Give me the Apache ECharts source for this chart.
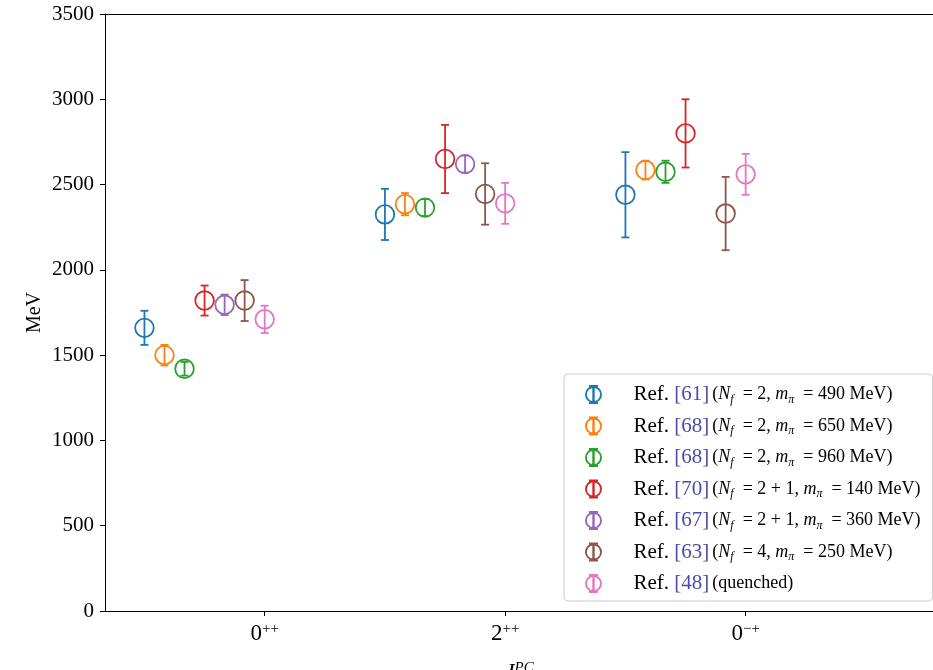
<!DOCTYPE html>
<html>
<head>
<meta charset="utf-8">
<script src="https://cdn.jsdelivr.net/npm/echarts@6/dist/echarts.min.js"></script>
<style>
html, body {margin: 0; padding: 0; background: #fff;}
#chart {width: 933px; height: 670px;}
</style>
</head>
<body>
<div id="chart"></div>
<script>
// J^PC channels, tick labels on x
const categories = ['0', '2', '0'];
const categorySup = ['++', '++', '\u2212+'];

// masses (MeV) and symmetric errors, one pair per reference
const mass61 = [1660, 2325, 2440];
const err61 = [100, 150, 250];
const mass68a = [1500, 2385, 2585];
const err68a = [60, 65, 55];
const mass68b = [1420, 2365, 2575];
const err68b = [40, 50, 65];
const mass70 = [1820, 2650, 2800];
const err70 = [88, 200, 200];
const mass67 = [1795, 2620, null];
const err67 = [60, 50, null];
const mass63 = [1820, 2445, 2330];
const err63 = [120, 180, 215];
const mass48 = [1710, 2390, 2560];
const err48 = [80, 120, 120];

const refNums = ['61', '68', '68', '70', '67', '63', '48'];
const nfLabels = ['2', '2', '2', '2 + 1', '2 + 1', '4', null];
const mpiLabels = ['490', '650', '960', '140', '360', '250', null];

const masses = [mass61, mass68a, mass68b, mass70, mass67, mass63, mass48];
const errors = [err61, err68a, err68b, err70, err67, err63, err48];
const colors = ['#1f77b4', '#ff7f0e', '#2ca02c', '#d62728', '#9467bd', '#8c564b', '#e377c2'];

const FONT = 'Liberation Serif';
const XMIN = -0.664, XMAX = 2.779;

// circle + error bar glyph for the legend
const icon = 'path://M0,-8.5A8.5,8.5 0 1,1 0,8.5A8.5,8.5 0 1,1 0,-8.5Z' +
    'M0,-6.6A6.6,6.6 0 1,0 0,6.6A6.6,6.6 0 1,0 0,-6.6Z' +
    'M-1.2,-9.5L1.2,-9.5L1.2,9.5L-1.2,9.5Z' +
    'M-4.5,-9.5L4.5,-9.5L4.5,-7.4L-4.5,-7.4Z' +
    'M-4.5,7.4L4.5,7.4L4.5,9.5L-4.5,9.5Z';

const renderErr = (color) => (params, api) => {
    const x = api.value(0), y = api.value(1), e = api.value(2);
    const c = api.coord([x, y]);
    const t = api.coord([x, y + e]);
    const b = api.coord([x, y - e]);
    const st = {stroke: color, lineWidth: 1.8, fill: 'none'};
    return {
        type: 'group',
        children: [
            {type: 'line', shape: {x1: c[0], y1: t[1], x2: c[0], y2: b[1]}, style: st},
            {type: 'line', shape: {x1: c[0] - 4, y1: t[1], x2: c[0] + 4, y2: t[1]}, style: st},
            {type: 'line', shape: {x1: c[0] - 4, y1: b[1], x2: c[0] + 4, y2: b[1]}, style: st},
            {type: 'circle', shape: {cx: c[0], cy: c[1], r: 9.3}, style: {stroke: color, lineWidth: 1.8, fill: 'none'}}
        ]
    };
};

const series = masses.map((m, s) => {
    const offset = (s - 6) / 12;
    const data = [];
    m.forEach((v, i) => {
        if (v != null) data.push([i + offset, v, errors[s][i]]);
    });
    return {
        name: 's' + s,
        type: 'custom',
        renderItem: renderErr(colors[s]),
        itemStyle: {color: colors[s]},
        encode: {x: 0, y: 1},
        data: data,
        z: 3 + s
    };
});

const legendText = (name) => {
    const s = +name.slice(1);
    let str = '{pad|}{ref|Ref. }{num|[' + refNums[s] + ']} ';
    if (nfLabels[s] == null) {
        str += '{p|(quenched)}';
    } else {
        str += '{p|(}{it|N}{sub|f}{p|  = ' + nfLabels[s] + ', }{it|m}{sub|\u03c0}{p|  = ' + mpiLabels[s] + ' MeV)}';
    }
    return str;
};

const chart = echarts.init(document.getElementById('chart'));
chart.setOption({
    animation: false,
    textStyle: {fontFamily: FONT},
    grid: {left: 105, right: 0, top: 14, bottom: 59, outerBoundsMode: 'none', containLabel: false},
    legend: {
        orient: 'vertical',
        left: 564,
        top: 374,
        padding: [10, 12, 7, 21],
        itemWidth: 30,
        itemHeight: 19,
        itemGap: 10,
        backgroundColor: 'rgba(255,255,255,0.8)',
        borderColor: '#cccccc',
        borderWidth: 1,
        borderRadius: 4,
        itemStyle: {borderWidth: 0},
        data: series.map(s => ({name: s.name, icon: icon})),
        formatter: legendText,
        textStyle: {
            fontFamily: FONT,
            color: '#000',
            rich: {
                pad: {width: 20, lineHeight: 22},
                ref: {fontFamily: FONT, fontSize: 21, color: '#000', lineHeight: 22},
                num: {fontFamily: FONT, fontSize: 21, color: '#4c4ca6', lineHeight: 22},
                p: {fontFamily: FONT, fontSize: 18, color: '#000', lineHeight: 22},
                it: {fontFamily: FONT, fontSize: 18, fontStyle: 'italic', color: '#000', lineHeight: 22},
                sub: {fontFamily: FONT, fontSize: 12, fontStyle: 'italic', color: '#000', lineHeight: 14, verticalAlign: 'bottom'}
            }
        }
    },
    xAxis: [{
        type: 'value',
        min: XMIN,
        max: XMAX,
        splitLine: {show: false},
        axisLine: {show: true, onZero: false, lineStyle: {color: '#000', width: 1}},
        axisTick: {show: true, customValues: [0, 1, 2], length: 5, lineStyle: {color: '#000'}},
        axisLabel: {
            customValues: [0, 1, 2],
            margin: 11,
            formatter: (v) => '{n|' + categories[Math.round(v)] + '}{s|' + categorySup[Math.round(v)] + '}',
            rich: {
                n: {fontFamily: FONT, fontSize: 23, color: '#000', lineHeight: 24},
                s: {fontFamily: FONT, fontSize: 15, color: '#000', lineHeight: 14, verticalAlign: 'top'}
            }
        },
        name: '{j|J}{s|PC}',
        nameLocation: 'middle',
        nameGap: 50,
        nameMoveOverlap: false,
        nameTextStyle: {
            rich: {
                j: {fontFamily: FONT, fontSize: 23, fontStyle: 'italic', color: '#000', lineHeight: 24},
                s: {fontFamily: FONT, fontSize: 15, fontStyle: 'italic', color: '#000', lineHeight: 14, verticalAlign: 'top'}
            }
        }
    }, {
        type: 'value',
        position: 'top',
        min: XMIN,
        max: XMAX,
        splitLine: {show: false},
        axisLine: {show: true, onZero: false, lineStyle: {color: '#000', width: 1}},
        axisTick: {show: false},
        axisLabel: {show: false}
    }],
    yAxis: {
        type: 'value',
        min: 0,
        max: 3500,
        interval: 500,
        splitLine: {show: false},
        axisLine: {show: true, onZero: false, lineStyle: {color: '#000', width: 1}},
        axisTick: {show: true, length: 5, lineStyle: {color: '#000'}},
        axisLabel: {fontFamily: FONT, fontSize: 21, color: '#000', margin: 11, formatter: (v) => String(v)},
        name: 'MeV',
        nameLocation: 'middle',
        nameGap: 60,
        nameMoveOverlap: false,
        nameTextStyle: {fontFamily: FONT, fontSize: 20, color: '#000'}
    },
    series: series
});
</script>
</body>
</html>
